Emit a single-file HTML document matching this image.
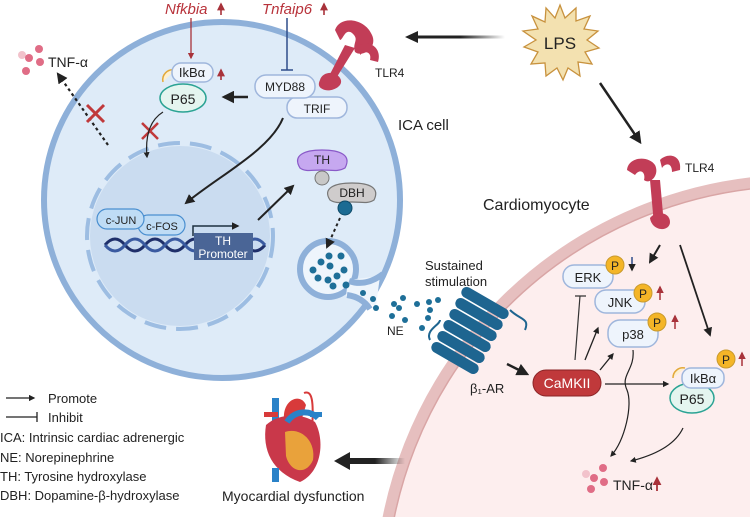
<!DOCTYPE html>
<html><head><meta charset="utf-8"><style>
html,body{margin:0;padding:0;background:#fff;overflow:hidden;width:750px;height:517px;}
svg{display:block;font-family:"Liberation Sans",sans-serif;}
</style></head><body>
<svg width="750" height="517" viewBox="0 0 750 517" xmlns="http://www.w3.org/2000/svg">
<defs>
<marker id="ah" viewBox="0 0 10 10" refX="8" refY="5" markerWidth="5" markerHeight="5" orient="auto"><path d="M0,0L10,5L0,10z" fill="#222"/></marker>
<marker id="ahr" viewBox="0 0 10 10" refX="8" refY="5" markerWidth="5" markerHeight="5" orient="auto"><path d="M0,0L10,5L0,10z" fill="#a8323a"/></marker>
<linearGradient id="gL" gradientUnits="userSpaceOnUse" x1="505" y1="0" x2="415" y2="0"><stop offset="0" stop-color="#222" stop-opacity="0"/><stop offset="0.5" stop-color="#222"/></linearGradient>
<linearGradient id="gH" gradientUnits="userSpaceOnUse" x1="405" y1="0" x2="345" y2="0"><stop offset="0" stop-color="#222" stop-opacity="0"/><stop offset="0.5" stop-color="#222"/></linearGradient>
</defs>

<!-- Cardiomyocyte -->
<circle cx="800" cy="600" r="420" fill="#fdeeee" stroke="#e6bfbf" stroke-width="11"/>
<circle cx="800" cy="600" r="414" fill="none" stroke="#d9a5a5" stroke-width="1.5"/>

<!-- ICA cell -->
<circle cx="222" cy="200" r="178" fill="#deebf8" stroke="#8eb0d9" stroke-width="6"/>

<!-- nucleus -->
<circle cx="180" cy="236" r="90" fill="#cadcf0"/>
<circle cx="180" cy="236" r="93" fill="none" stroke="#9dbde2" stroke-width="4" stroke-dasharray="22,10"/>

<!-- vesicle pocket -->
<circle cx="328" cy="269" r="28" fill="#eef5fc" stroke="#8eb0d9" stroke-width="6"/>
<path d="M348,280 L380,276 L376,306 L346,296z" fill="#eef5fc"/>
<path d="M349,281 Q366,287 383,274" fill="none" stroke="#8eb0d9" stroke-width="6"/>
<path d="M347,295 Q362,297 370,309" fill="none" stroke="#8eb0d9" stroke-width="6"/>

<!-- top genes -->
<text x="165" y="14" font-size="15" font-style="italic" fill="#b8333b">Nfkbia</text>
<path d="M221,15V4" stroke="#a8323a" stroke-width="1.6" marker-end="url(#ahr)"/>
<text x="262" y="14" font-size="15" font-style="italic" fill="#b8333b">Tnfaip6</text>
<path d="M324,15V4" stroke="#a8323a" stroke-width="1.6" marker-end="url(#ahr)"/>
<path d="M191,18V58" stroke="#a8323a" stroke-width="1.3" marker-end="url(#ahr)"/>
<path d="M287,18V70M281,70H293" stroke="#2f4d8a" stroke-width="1.5"/>

<!-- IkBa / P65 left -->
<path d="M163,82 A10,10 0 0 1 175,70" fill="#fdf0d0" stroke="#e3a93a" stroke-width="1.5"/>
<ellipse cx="183" cy="98" rx="23" ry="14" fill="#e4f5ef" stroke="#2ba394" stroke-width="1.5"/>
<text x="183" y="104" font-size="14" text-anchor="middle" fill="#222">P65</text>
<rect x="172" y="63" width="41" height="19" rx="9" fill="#eef4fc" stroke="#9fb6dc" stroke-width="1.5"/>
<text x="192" y="77" font-size="13" text-anchor="middle" fill="#222">IkBα</text>
<path d="M221,80V70" stroke="#a8323a" stroke-width="1.6" marker-end="url(#ahr)"/>

<!-- MYD88 TRIF -->
<rect x="287" y="97" width="60" height="21" rx="10" fill="#eef4fc" stroke="#9fb6dc" stroke-width="1.5"/>
<text x="317" y="113" font-size="12" text-anchor="middle" fill="#222">TRIF</text>
<rect x="255" y="75" width="60" height="23" rx="11" fill="#eef4fc" stroke="#9fb6dc" stroke-width="1.5"/>
<text x="285" y="91" font-size="12" text-anchor="middle" fill="#222">MYD88</text>
<path d="M248,97H224" stroke="#222" stroke-width="2.5" marker-end="url(#ah)"/>

<!-- TLR4 upper -->
<g fill="#c23d57">
<path d="M335,30 C340,15 365,18 372,35 C378,48 362,58 355,52 C352,42 360,40 352,33 C345,28 343,40 340,40z"/>
<path d="M360,45 C372,40 382,50 378,62 L370,60 C372,52 365,50 360,55z"/>
<path d="M345,45 L355,48 L335,80 L328,78z"/>
<path d="M320,80 C322,72 335,70 340,78 C345,86 332,92 325,90 C318,88 318,84 320,80z"/>
</g>
<text x="375" y="77" font-size="12" fill="#222">TLR4</text>

<!-- TNF-a left -->
<circle cx="22" cy="55" r="4" fill="#f2c2cb"/><circle cx="29" cy="58" r="4" fill="#e06d86"/><circle cx="39" cy="49" r="4" fill="#e06d86"/><circle cx="40" cy="62" r="4" fill="#e06d86"/><circle cx="26" cy="71" r="4" fill="#e06d86"/>
<text x="48" y="67" font-size="14" fill="#222">TNF-α</text>
<path d="M108,145 L58,74" stroke="#222" stroke-width="2.2" stroke-dasharray="3,3" marker-end="url(#ah)"/>
<path d="M87,105L104,122M104,105L87,122" stroke="#c0393b" stroke-width="3"/>
<path d="M142,123L158,139M158,123L142,139" stroke="#c0393b" stroke-width="2.5"/>
<path d="M163,112 C150,120 145,135 147,157" stroke="#222" stroke-width="1.2" fill="none" marker-end="url(#ah)"/>
<path d="M283,118 C270,150 220,175 186,203" stroke="#222" stroke-width="2" fill="none" marker-end="url(#ah)"/>

<!-- DNA -->
<path d="M105,245 Q115,233 125,245 T145,245 T165,245 T185,245 T205,245 T225,245 T245,245 T265,245" stroke="#1f2f6a" stroke-width="3" fill="none"/>
<path d="M105,245 Q115,257 125,245 T145,245 T165,245 T185,245 T205,245 T225,245 T245,245 T265,245" stroke="#3a5aa0" stroke-width="3" fill="none"/>
<rect x="194" y="233" width="59" height="27" fill="#4a6596"/>
<text x="223" y="245" font-size="12" text-anchor="middle" fill="#fff">TH</text>
<text x="223" y="258" font-size="12" text-anchor="middle" fill="#fff">Promoter</text>
<path d="M193,236V226H238" stroke="#1d3040" stroke-width="1.5" fill="none" marker-end="url(#ah)"/>
<rect x="138" y="215" width="47" height="20" rx="10" fill="#bfdcf5" stroke="#4a8fd0" stroke-width="1.2"/>
<text x="162" y="230" font-size="11" text-anchor="middle" fill="#222">c-FOS</text>
<rect x="97" y="209" width="47" height="20" rx="10" fill="#bfdcf5" stroke="#4a8fd0" stroke-width="1.2"/>
<text x="121" y="224" font-size="11" text-anchor="middle" fill="#222">c-JUN</text>
<path d="M258,220 L293,186" stroke="#222" stroke-width="2" marker-end="url(#ah)"/>

<!-- TH DBH -->
<path d="M300,168 C292,155 305,150 322,150 C340,150 352,155 345,168 C338,172 332,170 322,170 C312,170 305,172 300,168z" fill="#c6a8f0" stroke="#8a5ac8" stroke-width="1.2"/>
<text x="322" y="164" font-size="12" text-anchor="middle" fill="#222">TH</text>
<circle cx="322" cy="178" r="7" fill="#c8c8c8" stroke="#777"/>
<path d="M330,200 C322,188 335,183 352,183 C370,183 380,188 374,200 C368,204 362,202 352,202 C342,202 336,204 330,200z" fill="#cfcccc" stroke="#777" stroke-width="1.2"/>
<text x="352" y="197" font-size="12" text-anchor="middle" fill="#222">DBH</text>
<circle cx="345" cy="208" r="7" fill="#1c6b93" stroke="#0e4b6a"/>
<path d="M340,218 L327,247" stroke="#222" stroke-width="2" stroke-dasharray="3,3" marker-end="url(#ah)"/>

<!-- vesicle dots -->
<g fill="#1e6f98">
<circle cx="313" cy="270" r="3.5"/><circle cx="321" cy="262" r="3.5"/><circle cx="330" cy="266" r="3.5"/><circle cx="341" cy="256" r="3.5"/><circle cx="329" cy="256" r="3.5"/><circle cx="318" cy="278" r="3.5"/><circle cx="328" cy="280" r="3.5"/><circle cx="337" cy="276" r="3.5"/><circle cx="344" cy="270" r="3.5"/><circle cx="333" cy="286" r="3.5"/><circle cx="346" cy="285" r="3.5"/>
<circle cx="363" cy="293" r="3"/><circle cx="373" cy="299" r="3"/><circle cx="376" cy="308" r="3"/><circle cx="394" cy="304" r="3"/><circle cx="403" cy="298" r="3"/><circle cx="399" cy="308" r="3"/><circle cx="417" cy="304" r="3"/><circle cx="429" cy="302" r="3"/><circle cx="438" cy="300" r="3"/><circle cx="392" cy="316" r="3"/><circle cx="405" cy="320" r="3"/><circle cx="428" cy="318" r="3"/><circle cx="422" cy="328" r="3"/><circle cx="430" cy="310" r="3"/>
</g>
<text x="387" y="335" font-size="12" fill="#222">NE</text>
<text x="398" y="130" font-size="15" fill="#222">ICA cell</text>

<!-- LPS -->
<polygon points="560,5 565,18 576,8 576,21 590,16 584,29 598,31 587,40 599,48 585,52 592,64 578,62 580,76 568,68 563,80 557,68 546,76 545,63 531,64 538,52 524,47 536,40 523,31 538,29 532,16 545,22 546,8 555,18" fill="#f3e1b0" stroke="#c8923e" stroke-width="1.3"/>
<text x="560" y="49" font-size="17" text-anchor="middle" fill="#222">LPS</text>
<rect x="415" y="35.5" width="90" height="3" fill="url(#gL)"/>
<path d="M405,37L418,31L418,43z" fill="#222"/>
<path d="M600,83 L640,142" stroke="#222" stroke-width="2.5" marker-end="url(#ah)"/>

<!-- TLR4 right -->
<g fill="#c23d57">
<path d="M627,170 C628,157 648,155 655,165 C660,175 650,185 644,180 C646,172 640,168 635,175z"/>
<path d="M660,160 C668,152 682,155 680,170 L672,172 C672,162 665,163 662,168z"/>
<path d="M650,180 L660,180 L664,225 L654,225z"/>
<path d="M650,218 C656,210 670,212 670,222 C670,232 652,232 650,218z"/>
</g>
<text x="685" y="172" font-size="12" fill="#222">TLR4</text>
<text x="483" y="210" font-size="16" fill="#222">Cardiomyocyte</text>

<!-- beta1-AR -->
<text x="425" y="270" font-size="13" fill="#222">Sustained</text>
<text x="425" y="286" font-size="13" fill="#222">stimulation</text>
<g fill="#1e6590" stroke="#1e6590">
<rect x="459" y="298" width="52" height="10" rx="5" transform="rotate(30 485 303)"/>
<rect x="453" y="309" width="52" height="10" rx="5" transform="rotate(30 479 314)"/>
<rect x="447" y="320" width="52" height="10" rx="5" transform="rotate(30 473 325)"/>
<rect x="441" y="331" width="52" height="10" rx="5" transform="rotate(30 467 336)"/>
<rect x="435" y="342" width="52" height="10" rx="5" transform="rotate(30 461 347)"/>
<rect x="429" y="353" width="52" height="10" rx="5" transform="rotate(30 455 358)"/>
<path d="M430,340 C425,330 440,325 440,320" fill="none" stroke-width="2"/>
<path d="M510,310 C520,320 530,318 525,330" fill="none" stroke-width="2"/>
</g>
<text x="470" y="393" font-size="13" fill="#222">β₁-AR</text>
<path d="M507,364 L527,374" stroke="#222" stroke-width="2.5" marker-end="url(#ah)"/>
<rect x="533" y="370" width="68" height="26" rx="13" fill="#c0393b" stroke="#8a2426"/>
<text x="567" y="388" font-size="14" text-anchor="middle" fill="#fff">CaMKII</text>

<!-- kinases -->
<rect x="563" y="265" width="50" height="23" rx="11" fill="#eef4fc" stroke="#9fb6dc" stroke-width="1.5"/>
<text x="588" y="282" font-size="13" text-anchor="middle" fill="#222">ERK</text>
<circle cx="615" cy="265" r="9" fill="#f4b527" stroke="#c99a2e"/><text x="615" y="270" font-size="12" text-anchor="middle" fill="#222">P</text>
<path d="M632,257V270" stroke="#2f4d8a" stroke-width="1.5" marker-end="url(#ah)"/>
<rect x="595" y="290" width="50" height="23" rx="11" fill="#eef4fc" stroke="#9fb6dc" stroke-width="1.5"/>
<text x="620" y="307" font-size="13" text-anchor="middle" fill="#222">JNK</text>
<circle cx="643" cy="293" r="9" fill="#f4b527" stroke="#c99a2e"/><text x="643" y="298" font-size="12" text-anchor="middle" fill="#222">P</text>
<path d="M660,300V287" stroke="#a8323a" stroke-width="1.5" marker-end="url(#ahr)"/>
<rect x="608" y="320" width="50" height="27" rx="12" fill="#eef4fc" stroke="#9fb6dc" stroke-width="1.5"/>
<text x="633" y="339" font-size="13" text-anchor="middle" fill="#222">p38</text>
<circle cx="657" cy="322" r="9" fill="#f4b527" stroke="#c99a2e"/><text x="657" y="327" font-size="12" text-anchor="middle" fill="#222">P</text>
<path d="M675,329V316" stroke="#a8323a" stroke-width="1.5" marker-end="url(#ahr)"/>
<path d="M575,360L580,296M575,296H586" stroke="#333" stroke-width="1.2" fill="none"/>
<path d="M585,360L598,328" stroke="#222" stroke-width="1.3" marker-end="url(#ah)"/>
<path d="M600,370L613,354" stroke="#222" stroke-width="1.3" marker-end="url(#ah)"/>
<path d="M605,384H668" stroke="#222" stroke-width="1.3" marker-end="url(#ah)"/>
<path d="M660,245L650,262" stroke="#222" stroke-width="2" marker-end="url(#ah)"/>
<path d="M680,245L710,335" stroke="#222" stroke-width="1.8" marker-end="url(#ah)"/>

<!-- IkBa P65 right -->
<path d="M673,378 A10,10 0 0 1 685,368" fill="#fdf0d0" stroke="#e3a93a" stroke-width="1.5"/>
<ellipse cx="692" cy="398" rx="22" ry="15" fill="#e4f5ef" stroke="#2ba394" stroke-width="1.5"/>
<text x="692" y="404" font-size="14" text-anchor="middle" fill="#222">P65</text>
<rect x="682" y="368" width="42" height="20" rx="9" fill="#eef4fc" stroke="#9fb6dc" stroke-width="1.5"/>
<text x="703" y="383" font-size="13" text-anchor="middle" fill="#222">IkBα</text>
<circle cx="726" cy="359" r="9" fill="#f4b527" stroke="#c99a2e"/><text x="726" y="364" font-size="12" text-anchor="middle" fill="#222">P</text>
<path d="M742,366V353" stroke="#a8323a" stroke-width="1.5" marker-end="url(#ahr)"/>

<!-- to TNF-a right -->
<path d="M633,350 C635,370 620,375 627,390 C633,405 625,440 611,456" stroke="#222" stroke-width="1.2" fill="none" marker-end="url(#ah)"/>
<path d="M683,428 C675,445 655,455 631,461" stroke="#222" stroke-width="1.2" fill="none" marker-end="url(#ah)"/>
<circle cx="586" cy="474" r="4" fill="#f2c2cb"/><circle cx="594" cy="478" r="4" fill="#e06d86"/><circle cx="603" cy="468" r="4" fill="#e06d86"/><circle cx="604" cy="482" r="4" fill="#e06d86"/><circle cx="591" cy="489" r="4" fill="#e06d86"/>
<text x="613" y="490" font-size="14" fill="#222">TNF-α</text>
<path d="M657,491V478" stroke="#a8323a" stroke-width="1.8" marker-end="url(#ahr)"/>

<!-- heart -->
<g>
<path d="M272,398 h7 v25 h-7z" fill="#2a82c8"/>
<path d="M264,412 h14 v5 h-14z" fill="#d83a3a"/>
<path d="M284,420 C282,400 300,392 306,405 L300,425z" fill="#d83a3a"/>
<path d="M304,393 C312,390 314,400 312,430" stroke="#d83a3a" stroke-width="2" fill="none"/>
<path d="M266,425 C262,450 272,472 300,482 C322,472 325,440 315,422 C300,412 278,414 266,425z" fill="#c9384a"/>
<path d="M285,432 C300,427 316,440 313,460 C306,476 290,472 286,456z" fill="#e9a23b"/>
<path d="M287,422 C295,410 310,410 318,418" stroke="#2a82c8" stroke-width="6" fill="none"/>
<path d="M310,412 h12 v5 h-12z" fill="#2a82c8"/>
<rect x="272" y="468" width="7" height="14" fill="#2a82c8"/>
</g>
<text x="222" y="501" font-size="14" fill="#222">Myocardial dysfunction</text>
<rect x="345" y="458" width="60" height="6" fill="url(#gH)"/>
<path d="M334,461L350,452L350,470z" fill="#222"/>

<!-- legend -->
<path d="M6,398H34" stroke="#222" stroke-width="1.3" marker-end="url(#ah)"/>
<text x="48" y="403" font-size="13" fill="#222">Promote</text>
<path d="M6,417H37M37,412V422" stroke="#222" stroke-width="1.3"/>
<text x="48" y="422" font-size="13" fill="#222">Inhibit</text>
<text x="0" y="442" font-size="13" fill="#222">ICA: Intrinsic cardiac adrenergic</text>
<text x="0" y="462" font-size="13" fill="#222">NE: Norepinephrine</text>
<text x="0" y="481" font-size="13" fill="#222">TH: Tyrosine hydroxylase</text>
<text x="0" y="500" font-size="13" fill="#222">DBH: Dopamine-β-hydroxylase</text>
</svg>
</body></html>
